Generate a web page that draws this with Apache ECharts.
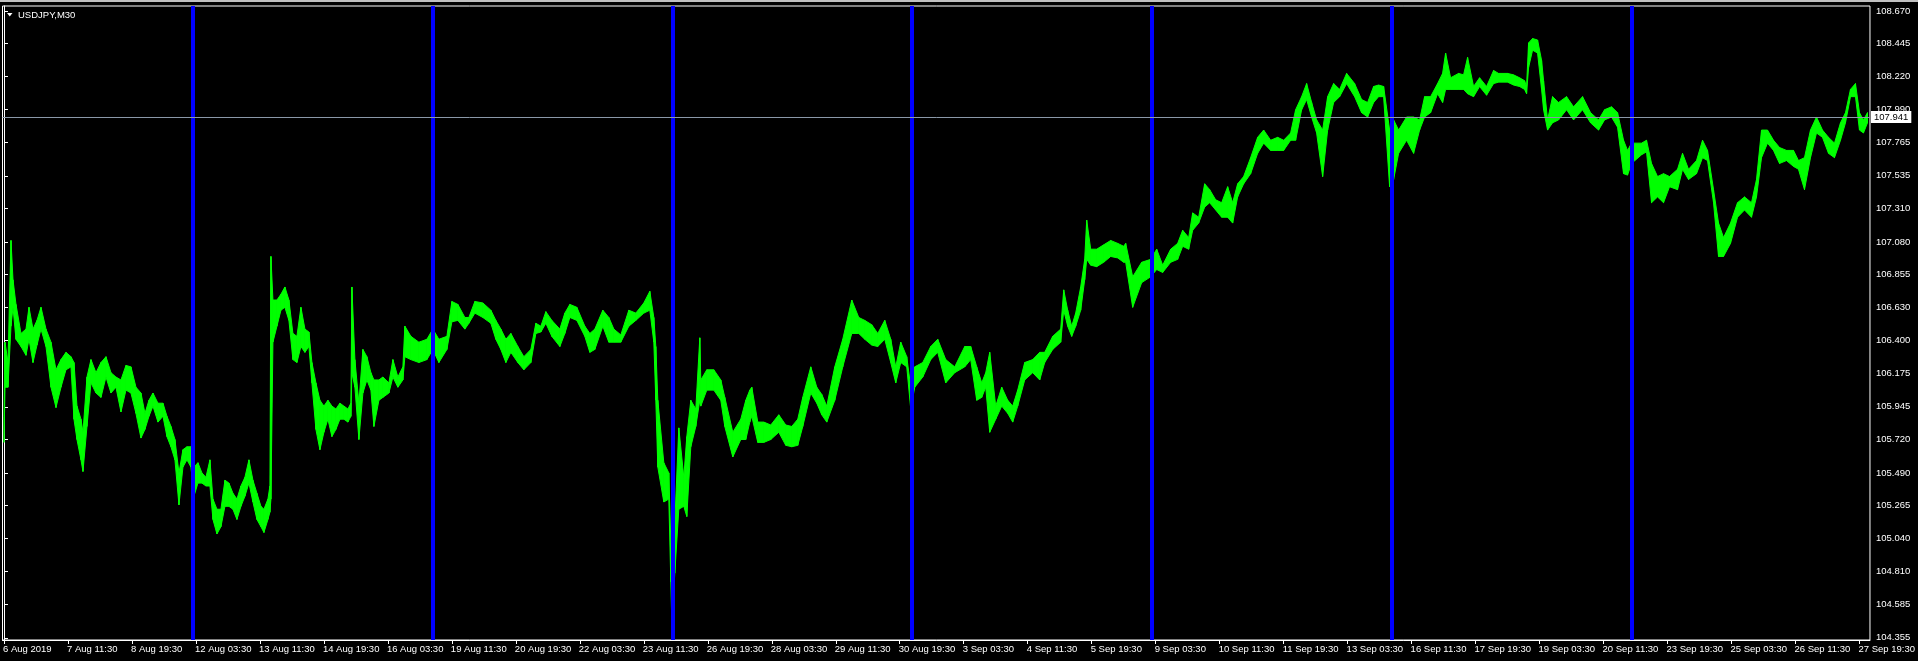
<!DOCTYPE html>
<html><head><meta charset="utf-8">
<script src="https://cdn.jsdelivr.net/npm/echarts@6/dist/echarts.min.js"></script>
<style>html,body{margin:0;padding:0;background:#000;overflow:hidden}#c{width:1918px;height:661px}</style>
</head><body><div id="c"></div>
<script>
const symbolTitle = 'USDJPY,M30';
const lastPrice = 107.941;

// bar index (M30 bars from the first label) of each reading
const bars = [0,1,4,7,9,12,17,22,25,29,33,37,42,47,52,57,62,67,70,73,77,79,83,87,92,97,102,107,112,117,122,127,132,137,141,145,149,154,159,163,167,171,175,179,183,187,190,194,198,202,206,209,213,217,221,225,229,233,237,241,245,249,253,257,260,264,266,267,269,273,277,281,285,289,293,297,301,305,308,312,316,320,324,328,332,336,340,344,347,348,351,355,359,363,367,370,375,379,385,389,394,399,401,407,415,423,429,435,443,448,454,461,465,471,479,487,492,497,502,507,514,520,527,532,537,542,548,556,561,566,573,581,586,591,599,605,610,617,625,632,640,646,650,652,654,660,665,667,668,671,675,680,683,687,692,696,697,703,710,717,721,729,737,742,746,748,754,760,767,775,782,788,794,799,807,813,818,823,831,839,848,855,861,868,874,881,887,892,897,903,907,911,919,927,934,942,951,961,967,973,978,982,986,992,998,1004,1009,1014,1021,1029,1036,1041,1049,1057,1060,1064,1068,1072,1077,1081,1083,1087,1093,1100,1107,1114,1120,1122,1129,1138,1147,1153,1159,1167,1174,1179,1185,1189,1195,1201,1206,1212,1218,1224,1229,1234,1240,1247,1254,1260,1267,1274,1280,1287,1292,1298,1303,1308,1313,1319,1324,1330,1336,1343,1351,1358,1364,1370,1375,1380,1386,1390,1395,1403,1410,1416,1421,1427,1434,1439,1442,1447,1455,1460,1464,1470,1476,1483,1490,1495,1500,1504,1510,1516,1521,1523,1525,1529,1534,1538,1540,1544,1549,1555,1563,1570,1579,1587,1595,1601,1608,1614,1620,1624,1628,1638,1643,1648,1654,1660,1666,1674,1679,1685,1693,1699,1704,1710,1715,1720,1727,1734,1741,1748,1753,1758,1764,1770,1776,1783,1790,1795,1801,1807,1813,1819,1825,1831,1837,1842,1847,1852,1856,1860,1864];

const highs = [105.88,106.39,106.25,107.09,106.82,106.65,106.45,106.48,106.63,106.48,106.54,106.63,106.48,106.39,106.20,106.27,106.32,106.29,106.25,105.95,105.86,105.77,106.15,106.27,106.18,106.25,106.29,106.18,106.15,106.13,106.23,106.22,106.08,106.04,105.90,105.99,106.04,105.97,105.97,105.88,105.81,105.72,105.49,105.65,105.67,105.67,105.53,105.56,105.49,105.46,105.58,105.31,105.24,105.24,105.44,105.42,105.35,105.31,105.40,105.46,105.58,105.44,105.35,105.26,105.24,105.31,105.40,106.98,106.68,106.68,106.72,106.77,106.68,106.45,106.43,106.63,106.48,106.46,106.25,106.11,105.99,105.95,105.99,105.95,105.93,105.97,105.95,105.93,105.97,106.77,106.27,105.97,106.34,106.29,106.18,106.13,106.13,106.15,106.11,106.27,106.15,106.22,106.50,106.43,106.39,106.41,106.48,106.41,106.43,106.67,106.65,106.56,106.56,106.67,106.66,106.61,106.54,106.48,106.41,106.45,106.36,106.29,106.34,106.52,106.50,106.60,106.54,106.48,106.59,106.65,106.63,106.50,106.45,106.48,106.61,106.56,106.48,106.44,106.61,106.59,106.66,106.74,106.56,106.36,105.99,105.56,105.49,105.01,104.74,105.15,105.80,105.46,105.74,105.99,105.93,106.42,106.13,106.20,106.20,106.13,106.01,105.77,105.86,105.99,106.06,106.08,105.84,105.84,105.82,105.89,105.82,105.81,105.86,106.01,106.22,106.08,106.03,105.95,106.22,106.41,106.68,106.56,106.54,106.51,106.45,106.54,106.41,106.22,106.39,106.29,106.08,106.22,106.25,106.36,106.41,106.27,106.22,106.36,106.36,106.22,106.11,106.18,106.32,105.95,106.08,105.99,105.95,106.06,106.25,106.27,106.32,106.32,106.43,106.48,106.75,106.61,106.50,106.59,106.77,106.96,107.23,107.03,107.03,107.06,107.09,107.07,107.05,107.07,106.84,106.94,106.96,107.03,106.92,107.03,107.07,107.16,107.11,107.28,107.25,107.48,107.44,107.37,107.35,107.46,107.35,107.48,107.53,107.66,107.80,107.85,107.78,107.80,107.78,107.83,107.99,108.08,108.17,108.04,107.92,107.85,108.08,108.17,108.13,108.24,108.17,108.06,108.04,108.15,108.16,108.15,107.85,107.92,107.85,107.94,107.94,107.92,108.08,108.08,108.17,108.24,108.38,108.21,108.24,108.23,108.35,108.15,108.21,108.15,108.26,108.24,108.24,108.24,108.23,108.21,108.19,108.15,108.45,108.48,108.47,108.33,108.19,107.92,108.08,108.04,108.08,108.01,108.08,107.97,107.92,107.99,108.01,107.97,107.78,107.71,107.76,107.76,107.78,107.62,107.53,107.55,107.53,107.58,107.69,107.58,107.64,107.78,107.71,107.44,107.21,107.11,107.21,107.35,107.39,107.35,107.51,107.85,107.85,107.78,107.73,107.71,107.71,107.64,107.66,107.85,107.94,107.85,107.80,107.76,107.90,107.97,108.13,108.17,107.97,107.92,107.97];

const lows = [105.70,106.08,106.08,106.50,106.63,106.41,106.36,106.30,106.41,106.25,106.37,106.48,106.36,106.08,105.94,106.08,106.20,106.22,105.86,105.72,105.58,105.50,105.81,106.11,106.04,106.01,106.15,106.04,106.08,105.91,106.06,106.04,105.90,105.73,105.79,105.88,105.95,105.84,105.88,105.74,105.67,105.58,105.27,105.53,105.58,105.53,105.33,105.42,105.42,105.40,105.40,105.17,105.07,105.12,105.26,105.26,105.24,105.17,105.26,105.33,105.42,105.29,105.17,105.12,105.08,105.17,105.22,105.31,106.39,106.50,106.61,106.63,106.54,106.27,106.25,106.36,106.32,106.36,106.11,105.79,105.65,105.77,105.86,105.74,105.79,105.86,105.86,105.84,105.88,106.18,106.08,105.72,106.04,106.13,106.06,105.81,105.99,106.01,106.04,106.15,106.08,106.13,106.29,106.27,106.25,106.27,106.34,106.25,106.34,106.53,106.54,106.48,106.52,106.59,106.56,106.52,106.41,106.34,106.25,106.32,106.25,106.20,106.25,106.45,106.46,106.52,106.43,106.36,106.45,106.56,106.54,106.43,106.32,106.34,106.50,106.39,106.39,106.39,106.50,106.54,106.59,106.61,106.39,105.99,105.53,105.29,105.31,104.74,104.45,104.80,105.24,105.26,105.19,105.67,105.81,105.99,105.95,106.06,106.06,105.99,105.81,105.60,105.72,105.72,105.84,105.88,105.70,105.70,105.72,105.77,105.68,105.67,105.68,105.81,106.04,105.97,105.89,105.84,105.99,106.22,106.45,106.45,106.41,106.37,106.36,106.41,106.25,106.11,106.25,106.22,105.93,106.08,106.15,106.27,106.32,106.11,106.18,106.22,106.27,105.99,106.01,106.08,105.77,105.86,105.95,105.90,105.84,105.95,106.13,106.18,106.13,106.25,106.34,106.39,106.61,106.50,106.43,106.50,106.61,106.82,106.96,106.92,106.91,106.94,106.98,106.97,106.94,106.94,106.63,106.80,106.84,106.89,106.87,106.94,106.96,107.05,107.03,107.16,107.21,107.32,107.35,107.30,107.25,107.25,107.21,107.39,107.48,107.55,107.69,107.76,107.71,107.71,107.71,107.78,107.78,107.99,108.06,107.94,107.83,107.53,107.85,108.04,108.08,108.17,108.08,107.97,107.94,108.04,108.08,108.08,107.46,107.51,107.69,107.78,107.69,107.85,107.94,107.97,108.10,108.04,108.13,108.13,108.13,108.13,108.10,108.08,108.15,108.09,108.17,108.18,108.18,108.18,108.16,108.15,108.13,108.10,108.28,108.40,108.38,108.13,107.99,107.85,107.90,107.92,107.99,107.92,107.99,107.90,107.85,107.92,107.94,107.87,107.55,107.54,107.62,107.68,107.70,107.35,107.39,107.35,107.46,107.44,107.58,107.51,107.55,107.66,107.64,107.35,106.98,106.98,107.07,107.25,107.30,107.25,107.39,107.66,107.76,107.71,107.62,107.64,107.60,107.58,107.44,107.66,107.83,107.80,107.69,107.66,107.78,107.90,108.08,108.08,107.85,107.83,107.90];

// weekly separators (between bars)
const separatorBars = [188.5, 428.5, 668.5, 908.5, 1148.5, 1388.5, 1628.5];

// time axis ticks
const timeTickBars = [0,64,128,192,256,320,384,448,512,576,640,704,768,832,896,960,1024,1088,1152,1216,1280,1344,1408,1472,1536,1600,1664,1728,1792,1856];
const timeTickLabels = ['6 Aug 2019','7 Aug 11:30','8 Aug 19:30','12 Aug 03:30','13 Aug 11:30','14 Aug 19:30','16 Aug 03:30','19 Aug 11:30','20 Aug 19:30','22 Aug 03:30','23 Aug 11:30','26 Aug 19:30','28 Aug 03:30','29 Aug 11:30','30 Aug 19:30','3 Sep 03:30','4 Sep 11:30','5 Sep 19:30','9 Sep 03:30','10 Sep 11:30','11 Sep 19:30','13 Sep 03:30','16 Sep 11:30','17 Sep 19:30','19 Sep 03:30','20 Sep 11:30','23 Sep 19:30','25 Sep 03:30','26 Sep 11:30','27 Sep 19:30'];

// price axis ticks
const priceTicks = [104.355,104.585,104.810,105.040,105.265,105.490,105.720,105.945,106.175,106.400,106.630,106.855,107.080,107.310,107.535,107.765,107.990,108.220,108.445,108.670];

const FONT = 'Liberation Sans';
const chart = echarts.init(document.getElementById('c'), null, {renderer: 'canvas'});

const n = Math.min(bars.length, highs.length, lows.length);
const bandData = [];
for (let i = 0; i < n; i++) bandData.push([bars[i], highs[i], lows[i]]);

function renderBand(params, api) {
  const i = params.dataIndex;
  const j = Math.min(i + 1, n - 1);
  const a1 = api.coord([bars[i], highs[i]]);
  const a2 = api.coord([bars[i], lows[i]]);
  const b1 = api.coord([bars[j], highs[j]]);
  const b2 = api.coord([bars[j], lows[j]]);
  if (i === j) {
    return {type: 'line', shape: {x1: a1[0], y1: a1[1], x2: a2[0], y2: a2[1]},
      style: {stroke: '#00ff00', lineWidth: 1}};
  }
  return {
    type: 'polygon',
    shape: {points: [a1, b1, b2, a2]},
    style: {fill: '#00ff00', stroke: '#00ff00', lineWidth: 1}
  };
}

chart.setOption({
  animation: false,
  backgroundColor: '#000',
  grid: {left: 2, right: 48, top: 6, bottom: 21, show: true, borderColor: '#fff', borderWidth: 1, backgroundColor: '#000'},
  xAxis: {
    type: 'value', min: -1.5, max: 1866.5,
    splitLine: {show: false},
    axisLine: {show: true, lineStyle: {color: '#fff', width: 1}},
    axisTick: {show: true, customValues: timeTickBars, length: 4, lineStyle: {color: '#fff'}},
    axisLabel: {
      customValues: timeTickBars, color: '#fff', fontFamily: FONT, fontSize: 9.5,
      margin: 4, align: 'left', padding: [0, 0, 0, -1],
      formatter: v => timeTickLabels[timeTickBars.indexOf(Math.round(v))] || ''
    }
  },
  yAxis: {
    type: 'value', position: 'right', min: 104.340, max: 108.704,
    splitLine: {show: false},
    axisLine: {show: true, lineStyle: {color: '#fff', width: 1}},
    axisTick: {show: true, customValues: priceTicks, length: 4, lineStyle: {color: '#fff'}},
    axisLabel: {
      customValues: priceTicks, color: '#fff', fontFamily: FONT, fontSize: 9.5, margin: 6,
      formatter: v => v.toFixed(3)
    }
  },
  graphic: [
    {type: 'rect', shape: {x: 0, y: 0, width: 1918, height: 2}, style: {fill: '#c0c0c0'}, silent: true},
    {type: 'polygon', shape: {points: [[7, 13], [12.5, 13], [9.75, 16.5]]}, style: {fill: '#fff'}, silent: true},
    {type: 'text', x: 18, y: 15, style: {text: symbolTitle, fill: '#fff', font: '9.5px "Liberation Sans"', verticalAlign: 'middle'}, silent: true}
  ],
  series: [
    {
      type: 'line', data: [], z: 1, silent: true,
      markLine: {
        silent: true, symbol: ['none', 'none'], animation: false,
        lineStyle: {color: '#0000ff', width: 4, type: 'solid'},
        label: {show: false},
        data: separatorBars.map(b => ({xAxis: b}))
      }
    },
    {
      type: 'custom', name: 'USDJPY', data: bandData, z: 3, silent: true, clip: true,
      encode: {x: 0, y: [1, 2]},
      renderItem: renderBand
    },
    {
      type: 'line', data: [], z: 5, silent: true,
      markLine: {
        silent: true, symbol: ['none', 'none'], animation: false,
        lineStyle: {color: '#8a98a8', width: 1, type: 'solid'},
        label: {
          show: true, position: 'end', distance: 1, formatter: lastPrice.toFixed(3),
          backgroundColor: '#fff', color: '#000', fontFamily: FONT, fontSize: 9.5, padding: [1, 3, 1, 3]
        },
        data: [{yAxis: lastPrice}]
      }
    }
  ]
});
</script>
</body></html>
